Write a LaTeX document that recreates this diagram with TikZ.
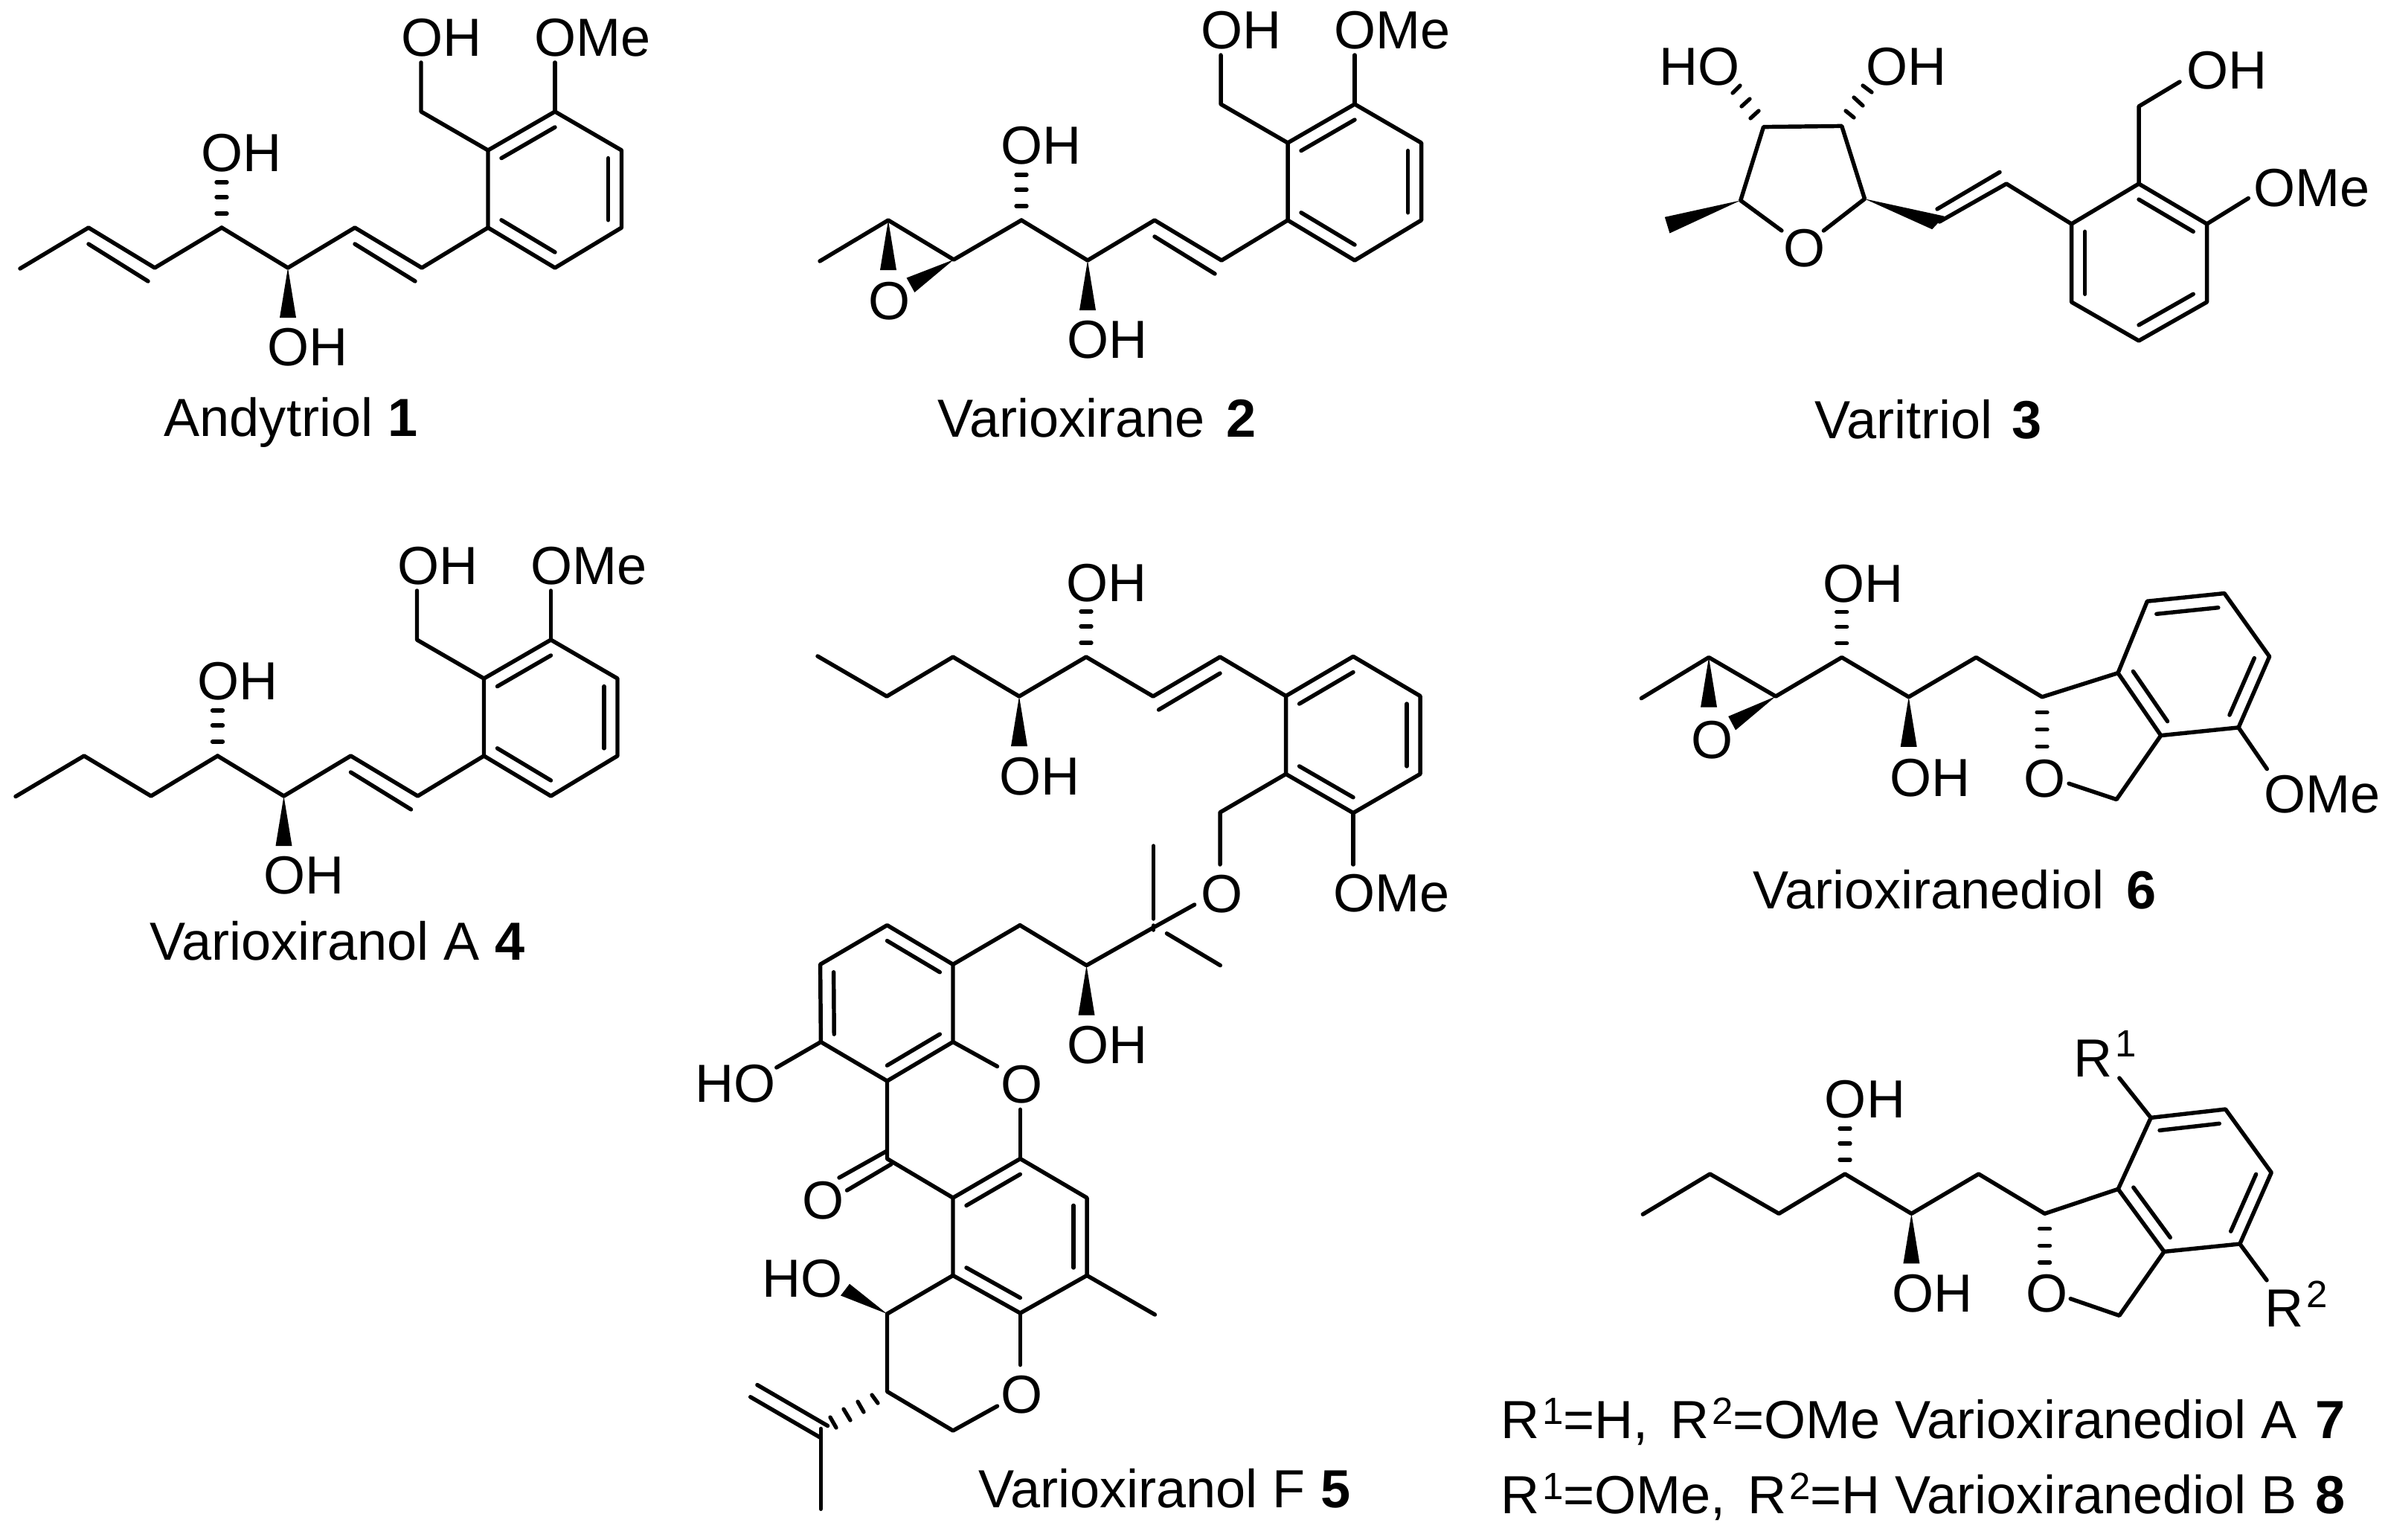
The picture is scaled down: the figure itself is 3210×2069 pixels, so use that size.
\documentclass[tikz,border=0pt]{standalone}
\usepackage{fontspec}
\setmainfont{Liberation Sans}
\usetikzlibrary{calc}
\tikzset{
	bond/.style={line width=1.55pt, line cap=round, line join=round},
	hashbond/.style={line width=1.5pt, line cap=round},
	lab/.style={font=\fontsize{20.5}{24}\selectfont, inner sep=0pt, anchor=base west}
}

\begin{document}
\begin{tikzpicture}[x=0.01cm, y=-0.01cm, text=black]
	\def \supnum #1#2{\kern1pt\raisebox{#1}{\fontsize{14.5}{16}\selectfont #2}}
	\def \wedgedown #1{\fill (#1) -- ++(-11,67) -- ++(22,0) -- cycle;}
	\def \hashup #1{\foreach \dy in {-61,-41,-19} \draw[hashbond] (#1) ++(-7,\dy) -- ++(14,0);}
	\def \ringdbl #1#2#3{\draw[bond] ($(#1)!0.8!(#2)$) -- ($(#1)!0.8!(#3)$);}
	\def \arylchain #1#2#3{
		\foreach \n/\x/\y in {c4/298/306, c5/387/360, c6/477/306, c7/567/360, r1/656/306, r2/656/202, r3/746/150, r4/835.5/202, r5/835.5/306, r6/746/360, k/746/255, ch/566/150, eo/566/84, em/746/84}
			\coordinate (#1\n) at (\x+#2,\y+#3);
		\draw[bond] (#1c4) -- (#1c5) -- (#1c6) -- (#1c7) -- (#1r1);
		\draw[bond] (#1r1) -- (#1r2) -- (#1r3) -- (#1r4) -- (#1r5) -- (#1r6) -- cycle;
		\draw[bond] (#1r2) -- (#1ch) -- (#1eo);
		\draw[bond] (#1r3) -- (#1em);
		\draw[bond] (#1c6) ++(0,22) -- ($(#1c7)+(-9,18)$);
		\ringdbl{#1k}{#1r2}{#1r3}
		\ringdbl{#1k}{#1r4}{#1r5}
		\ringdbl{#1k}{#1r6}{#1r1}
		\hashup{#1c4}
		\wedgedown{#1c5}
		\node[lab] (#1ohtop) at (539+#2,75+#3) {OH};
		\node[lab] (#1ome) at (718+#2,75+#3) {OMe};
		\node[lab] (#1ohup) at (270+#2,230+#3) {OH};
		\node[lab] (#1ohlow) at (359+#2,491+#3) {OH};
	}

\useasboundingbox[fill=white] (0,0) rectangle (3210,2069);

%Andytriol
\arylchain{m1}{0}{0}
\coordinate (m1a) at (27,361);
\coordinate (m1b) at (119,306);
\coordinate (m1c) at (208,360);
\draw[bond] (m1a) -- (m1b) -- (m1c) -- (m1c4);
\draw[bond] (m1b) ++(0,22) -- ($(m1c)+(-9,18)$);
\node[lab] (capone) at (220,586) {Andytriol \textbf{1}};

%Varioxirane
\arylchain{m2}{1075}{-10}
\coordinate (m2a) at (1102,351);
\coordinate (m2b) at (1194,296);
\coordinate (m2c) at (1282,349);
\draw[bond] (m2a) -- (m2b) -- (m2c) -- (m2c4);
\wedgedown{m2b}
\fill (m2c) -- ++(-63.4,24.5) -- ++(10.8,19.5) -- cycle;
\node[lab] (m2o) at (1167,429) {O};
\node[lab] (captwo) at (1260,587) {Varioxirane \kern2.3pt\textbf{2}};

%Varitriol
\foreach \n/\x/\y in {f1/2370.5/170.6, f2/2475.7/169.4, f3/2506.5/267.3, f4/2339.7/269.4, oa/2394.9/310, ob/2451.4/310, v1/2607/298, v2/2697/247, r1/2784.5/301, r2/2875/247, r3/2966.5/301, r4/2966.5/406, r5/2875/458, r6/2784.5/406, k/2875/352.5, ch/2875/143, eo/2930/110, em/3022.3/266.5}
	\coordinate (m3\n) at (\x,\y);
\draw[bond] (m3oa) -- (m3f4) -- (m3f1) -- (m3f2) -- (m3f3) -- (m3ob);
\fill (m3f4) -- (2237.8,291.8) -- (2244.4,313.5) -- cycle;
\fill (m3f3) -- (2613.6,290.6) -- (2597.2,308.2) -- cycle;
\foreach \xa/\ya/\xb/\yb in {2353/159/2364/149, 2341/143/2352/133, 2329/125/2339/115, 2481/149/2492/158, 2492/131/2504/142, 2504/115/2516/124}
	\draw[hashbond] (\xa,\ya) -- (\xb,\yb);
\draw[bond] (m3v1) -- (m3v2) -- (m3r1);
\draw[bond] (2604,281) -- (2688,231.4);
\draw[bond] (m3r1) -- (m3r2) -- (m3r3) -- (m3r4) -- (m3r5) -- (m3r6) -- cycle;
\draw[bond] (m3r2) -- (m3ch) -- (m3eo);
\draw[bond] (m3r3) -- (m3em);
\ringdbl{m3k}{m3r6}{m3r1}
\ringdbl{m3k}{m3r2}{m3r3}
\ringdbl{m3k}{m3r4}{m3r5}
\node[lab] (m3o) at (2397,358) {O};
\node[lab] (m3ho) at (2230,114) {HO};
\node[lab] (m3oh) at (2507.5,114) {OH};
\node[lab] (m3ohb) at (2939,119.5) {OH};
\node[lab] (m3ome) at (3029,277) {OMe};
\node[lab] (capthree) at (2439,589) {Varitriol \kern1.7pt\textbf{3}};

%Varioxiranol A
\arylchain{m4}{-5.5}{710}
\coordinate (m4a) at (21,1070.6);
\coordinate (m4b) at (113,1016);
\coordinate (m4c) at (203,1070);
\draw[bond] (m4a) -- (m4b) -- (m4c) -- (m4c4);
\node[lab] (capfour) at (201,1290.5) {Varioxiranol A \textbf{4}};

%Varioxiranol F, side chain
\foreach \n/\x/\y in {s1/1099/882, s2/1192/936, s3/1281/883, s4/1370/936, s5/1460/883, s6/1550/936, s7/1640/883, u1/1728.5/935.5, u2/1819/882.4, u3/1909/935.5, u4/1909/1040.4, u5/1819/1092.7, u6/1728.5/1040.4, uk/1819/988, ch/1640/1092, oa/1640/1162, om/1819/1162, ob/1605.6/1216, g/1550/1247, v1/1460.5/1297.6, v2/1371/1243.6, me/1550.4/1137, mf/1550.4/1235, mg/1568.4/1254.7, mh/1640.3/1297.6}
	\coordinate (\n) at (\x,\y);
\draw[bond] (s1) -- (s2) -- (s3) -- (s4) -- (s5) -- (s6) -- (s7) -- (u1);
\draw[bond] (s6) ++(7.6,18) -- ($(s7)+(0,22)$);
\draw[bond] (u1) -- (u2) -- (u3) -- (u4) -- (u5) -- (u6) -- cycle;
\ringdbl{uk}{u1}{u2}
\ringdbl{uk}{u3}{u4}
\ringdbl{uk}{u5}{u6}
\draw[bond] (u6) -- (ch) -- (oa);
\draw[bond] (u5) -- (om);
\hashup{s5}
\wedgedown{s4}
\draw[bond] (ob) -- (g) -- (v1) -- (v2);
\draw[bond] (me) -- (mf);
\draw[bond] (1550.4,1244) -- (1550.4,1250);
\draw[bond] (mg) -- (mh);
\wedgedown{v1}
\node[lab] (m5ohtop) at (1433,808.5) {OH};
\node[lab] (m5ohmid) at (1343,1068) {OH};
\node[lab] (m5oe) at (1613.4,1226) {O};
\node[lab] (m5ome) at (1791.4,1225) {OMe};
\node[lab] (m5ohlow) at (1433.7,1429) {OH};

%Varioxiranol F, ring system
\foreach \n/\x/\y in {a1/1281/1296.3, a2/1192.5/1243.6, a3/1102.6/1296.3, a4/1103.4/1400.5, a5/1192.5/1453, a6/1281/1400.5, ak/1192.5/1348.5, ho/1043.8/1434.9, oc/1340.5/1433.4, od/1371.4/1491.3, b1/1192.5/1557.5, b2/1281/1610, b3/1371.4/1557.5, b4/1461/1610, b5/1461/1714.4, b6/1371.4/1765, b7/1281/1714.4, bk/1371/1662, bm/1552.4/1767, d1/1192.5/1766, d2/1192.5/1870.4, d3/1281/1923, oe/1340.5/1890, of/1371.4/1834.6, d4/1103.4/1932.7, d5/1008.7/1877.7, d6/1103.4/2028.3}
	\coordinate (\n) at (\x,\y);
\draw[bond] (v2) -- (a1);
\draw[bond] (a1) -- (a2) -- (a3) -- (a4) -- (a5) -- (a6) -- cycle;
\ringdbl{ak}{a1}{a2}
\ringdbl{ak}{a3}{a4}
\ringdbl{ak}{a5}{a6}
\draw[bond] (a4) -- (ho);
\draw[bond] (a6) -- (oc);
\draw[bond] (od) -- (b3);
\draw[bond] (a5) -- (b1) -- (b2);
\draw[bond] (b1) ++(-1.5,-9.8) -- ++(-63,35.3);
\draw[bond] (b1) ++(5.5,7.3) -- ++(-59.5,35.2);
\draw[bond] (b2) -- (b3) -- (b4) -- (b5) -- (b6) -- (b7) -- cycle;
\ringdbl{bk}{b2}{b3}
\ringdbl{bk}{b4}{b5}
\ringdbl{bk}{b6}{b7}
\draw[bond] (b5) -- (bm);
\draw[bond] (b7) -- (d1) -- (d2) -- (d3) -- (oe);
\draw[bond] (b6) -- (of);
\fill (d1) -- ++(-50.5,-40.3) -- ++(-12,15.7) -- cycle;
\foreach \xa/\ya/\xb/\yb in {1172/1875/1180/1886, 1153/1884/1161/1898, 1134/1894/1143/1909, 1116/1905/1124/1919}
	\draw[hashbond] (\xa,\ya) -- (\xb,\yb);
\draw[bond] (d4) -- (d5);
\draw[bond] (1112.6,1916.5) -- (1017.9,1861.5);
\draw[bond] (1103.4,1920.4) -- (d6);
\node[lab] (m5ho) at (934,1481) {HO};
\node[lab] (m5ob) at (1344.6,1482) {O};
\node[lab] (m5oc) at (1077.3,1638) {O};
\node[lab] (m5hob) at (1024,1743) {HO};
\node[lab] (m5od) at (1344.6,1899) {O};
\node[lab] (capfive) at (1315,2026) {Varioxiranol F \textbf{5}};

%Varioxiranediol 6
\foreach \n/\x/\y in {e1/2206.3/938.6, e2/2297/883.6, e3/2387/936, e4/2475.7/883.6, e5/2565.7/936.8, e6/2656.3/883.6, e7/2745/936.8, r1/2847/904.6, r2/2886.3/808.2, r3/2990/797.5, r4/3050.6/882.5, r5/3009/977.9, r6/2904.7/988.6, ch/2845/1074.6, oa/2781/1053.2, om/3047.3/1033.6}
	\coordinate (m6\n) at (\x,\y);
\coordinate (m6k) at ($(m6r1)!0.5!(m6r4)$);
\draw[bond] (m6e1) -- (m6e2) -- (m6e3) -- (m6e4) -- (m6e5) -- (m6e6) -- (m6e7) -- (m6r1);
\draw[bond] (m6r1) -- (m6r2) -- (m6r3) -- (m6r4) -- (m6r5) -- (m6r6) -- cycle;
\ringdbl{m6k}{m6r2}{m6r3}
\ringdbl{m6k}{m6r4}{m6r5}
\ringdbl{m6k}{m6r6}{m6r1}
\draw[bond] (m6r6) -- (m6ch) -- (m6oa);
\draw[bond] (m6r5) -- (m6om);
\wedgedown{m6e2}
\fill (m6e3) -- ++(-63.8,26.9) -- ++(9.8,18.5) -- cycle;
\hashup{m6e4}
\wedgedown{m6e5}
\foreach \dy in {20.7,43.9,66.4}
	\draw[hashbond] (m6e7) ++(-7,\dy) -- ++(14,0);
\node[lab] (m6o) at (2272.3,1019) {O};
\node[lab] (m6ohup) at (2449.7,809) {OH};
\node[lab] (m6ohlow) at (2539.7,1070.7) {OH};
\node[lab] (m6ob) at (2719.7,1071) {O};
\node[lab] (m6ome) at (3042.3,1092) {OMe};
\node[lab] (capsix) at (2356,1221) {Varioxiranediol \kern2.8pt\textbf{6}};

%Varioxiranediol A and B
\foreach \n/\x/\y in {e1/2208.3/1632.2, e2/2298.6/1578, e3/2391.2/1631.3, e4/2480/1578, e5/2569.4/1631.3, e6/2659.7/1578, e7/2748.5/1631.3, r1/2847.2/1598.3, r2/2891.2/1502.4, r3/2991.5/1491, r4/3053.2/1576.1, r5/3010.8/1672, r6/2909/1682.4, ch/2848.8/1768.3, oa/2783.2/1745.7, ra/2848.8/1449, rb/3047/1720.8}
	\coordinate (m7\n) at (\x,\y);
\coordinate (m7k) at ($(m7r1)!0.5!(m7r4)$);
\draw[bond] (m7e1) -- (m7e2) -- (m7e3) -- (m7e4) -- (m7e5) -- (m7e6) -- (m7e7) -- (m7r1);
\draw[bond] (m7r1) -- (m7r2) -- (m7r3) -- (m7r4) -- (m7r5) -- (m7r6) -- cycle;
\ringdbl{m7k}{m7r2}{m7r3}
\ringdbl{m7k}{m7r4}{m7r5}
\ringdbl{m7k}{m7r6}{m7r1}
\draw[bond] (m7r6) -- (m7ch) -- (m7oa);
\draw[bond] (m7r2) -- (m7ra);
\draw[bond] (m7r5) -- (m7rb);
\hashup{m7e4}
\wedgedown{m7e5}
\foreach \dy in {20.4,43,65.6}
	\draw[hashbond] (m7e7) ++(-7,\dy) -- ++(14,0);
\node[lab] (m7ohup) at (2452.2,1502.4) {OH};
\node[lab] (m7ohlow) at (2542.5,1763.8) {OH};
\node[lab] (m7o) at (2722.3,1763.8) {O};
\node[lab] (m7rone) at (2787,1447.3) {R\supnum{7.5pt}{1}};
\node[lab] (m7rtwo) at (3044,1783.7) {R\supnum{7.5pt}{2}};
\node[lab] (capseven) at (2017,1933.4) {R\supnum{5.5pt}{1}=H, \kern2.8pt R\supnum{5.5pt}{2}=OMe Varioxiranediol A \kern1.5pt\textbf{7}};
\node[lab] (capeight) at (2017,2034.7) {R\supnum{5.5pt}{1}=OMe, \kern2.8pt R\supnum{5.5pt}{2}=H Varioxiranediol B \kern1.5pt\textbf{8}};

	\end{tikzpicture}
\end{document}
